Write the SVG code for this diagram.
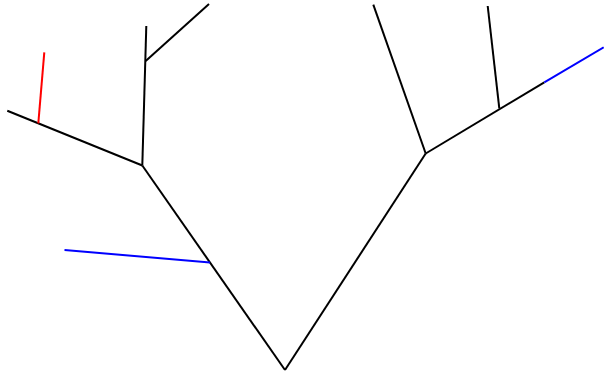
<svg xmlns="http://www.w3.org/2000/svg" width="604" height="376" viewBox="0 0 604 376">
<style>
line{stroke-width:2;stroke-linecap:butt}
.k{stroke:#000}
.b{stroke:#0000ff}
.r{stroke:#ff0000}
</style>
<rect width="604" height="376" fill="#fff"/>
<g id="connectors">
<line class="k" x1="285" y1="370" x2="142.3" y2="165.5"/>
<line class="k" x1="285" y1="370" x2="425.7" y2="153.5"/>
<line class="b" x1="210" y1="262.5" x2="64.5" y2="250"/>
<line class="k" x1="142.3" y1="165.5" x2="7.3" y2="110.7"/>
<line class="r" x1="38.3" y1="123.3" x2="44.3" y2="52.3"/>
<line class="k" x1="142.3" y1="165.5" x2="146.3" y2="26"/>
<line class="k" x1="145.7" y1="61" x2="209" y2="4"/>
<line class="k" x1="425.7" y1="153.5" x2="373.3" y2="4.7"/>
<line class="k" x1="425.7" y1="153.5" x2="544.3" y2="82.3"/>
<line class="k" x1="499.3" y1="108.3" x2="487.7" y2="6"/>
<line class="b" x1="544.3" y1="82.3" x2="603.7" y2="47.3"/>
</g>
</svg>
